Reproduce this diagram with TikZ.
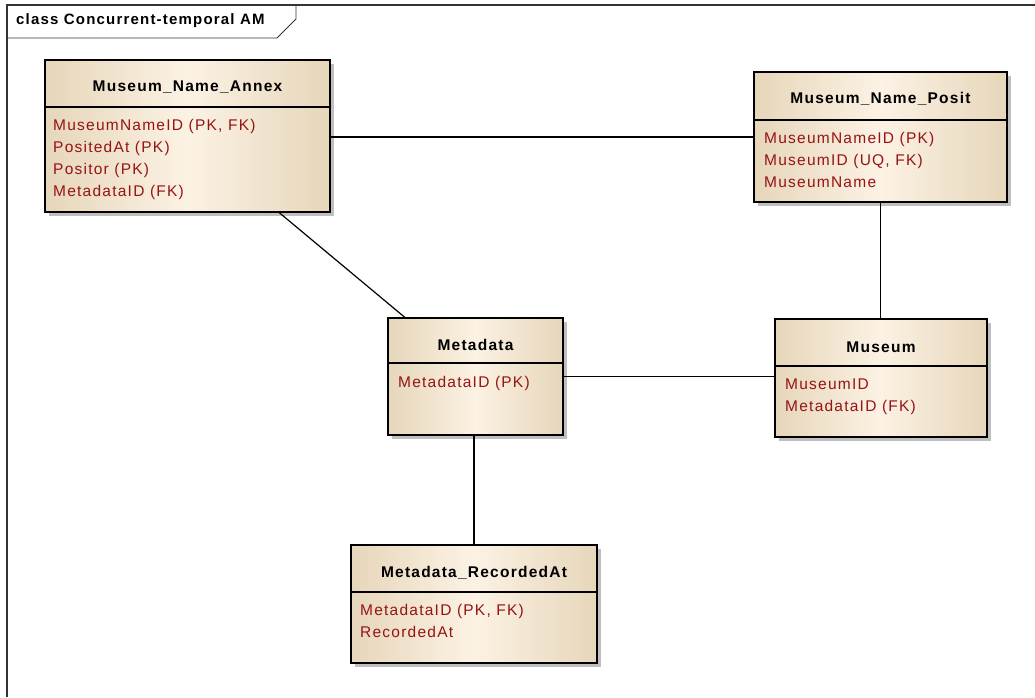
\documentclass[tikz,border=0pt]{standalone}
\usepackage{fontspec}
\setmainfont{Liberation Sans}
\newfontfamily\umlfont[LetterSpace=8]{Liberation Sans}
\usepackage{xcolor}
\usepackage{tikz}
\usetikzlibrary{positioning, calc, shadows}

\definecolor{tan}{RGB}{230,214,186}
\definecolor{cream}{RGB}{252,242,228}
\definecolor{attrred}{RGB}{150,20,20}

\begin{document}
\begin{tikzpicture}[
    x=1pt, y=-1pt,
    classbox/.style={rectangle, draw, line width=1.3pt, left color=tan, right color=tan, middle color=cream,
        drop shadow={shadow xshift=4pt, shadow yshift=-4pt, fill=black!25, opacity=1}},
    title/.style={font=\umlfont\fontsize{15.5}{18}\selectfont\bfseries, inner sep=0pt},
    attrs/.style={font=\umlfont\fontsize{15.5}{22}\selectfont, text=attrred, align=left, anchor=north west, inner sep=0pt},
    divider/.style={line width=1.1pt},
    link/.style={line width=1.2pt}
]
    \useasboundingbox (0,0) rectangle (1035,697);

    % diagram frame
    \draw[black!80, line width=1.4pt] (7,697) -- (7,5) -- (1035,5);
    \draw[black!80, line width=0.9pt] (7,38) -- (277,38) -- (296,19) -- (296,5);
    \node[font=\umlfont\fontsize{15}{17}\selectfont\bfseries, anchor=west, inner sep=0pt] (frametitle) at (16,21) {class Concurrent-temporal AM};

    % classes
    \node[classbox, minimum width=285pt, minimum height=152pt] (annex) at (187.5,136) {};
    \draw[divider] (45,107) -- (330,107);
    \node[title] (annextitle) at (187.5,87) {Museum\_Name\_Annex};
    \node[attrs] (annexattrs) at (53,119.5) {MuseumNameID (PK, FK)\\PositedAt (PK)\\Positor (PK)\\MetadataID (FK)};

    \node[classbox, minimum width=253pt, minimum height=130pt] (posit) at (880.5,137) {};
    \draw[divider] (754,120) -- (1007,120);
    \node[title] (posittitle) at (880.5,99) {Museum\_Name\_Posit};
    \node[attrs] (positattrs) at (764,132.5) {MuseumNameID (PK)\\MuseumID (UQ, FK)\\MuseumName};

    \node[classbox, minimum width=175pt, minimum height=117pt] (metadata) at (475.5,376.5) {};
    \draw[divider] (388,363) -- (563,363);
    \node[title] (metadatatitle) at (475.5,345) {Metadata};
    \node[attrs] (metadataattrs) at (398,376.5) {MetadataID (PK)};

    \node[classbox, minimum width=212pt, minimum height=118pt] (museum) at (881,378) {};
    \draw[divider] (775,366) -- (987,366);
    \node[title] (museumtitle) at (881,347) {Museum};
    \node[attrs] (museumattrs) at (785,378.5) {MuseumID\\MetadataID (FK)};

    \node[classbox, minimum width=246pt, minimum height=118pt] (recorded) at (474,604) {};
    \draw[divider] (351,592) -- (597,592);
    \node[title] (recordedtitle) at (474,573) {Metadata\_RecordedAt};
    \node[attrs] (recordedattrs) at (360,604.5) {MetadataID (PK, FK)\\RecordedAt};

    % associations
    \draw[link] (annex.east |- posit.west) -- (posit.west);
    \draw[link] (annex) -- (metadata);
    \draw[link] (posit.south) -- (posit.south |- museum.north);
    \draw[link] (metadata.east) -- (metadata.east -| museum.west);
    \draw[link] (recorded.north) -- (recorded.north |- metadata.south);
\end{tikzpicture}
\end{document}
